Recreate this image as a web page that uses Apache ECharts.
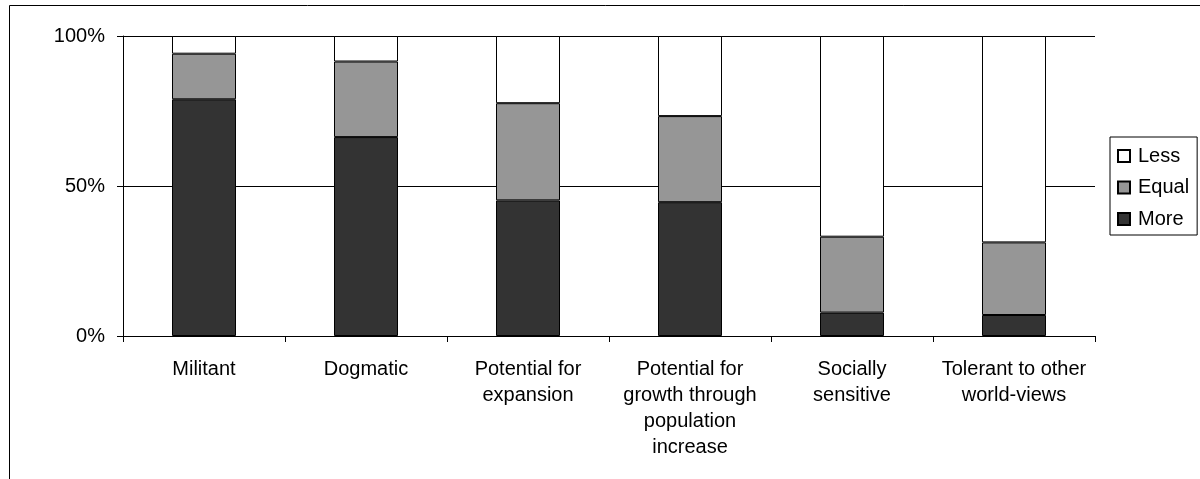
<!DOCTYPE html>
<html>
<head>
<meta charset="utf-8">
<script src="https://cdn.jsdelivr.net/npm/echarts@6/dist/echarts.min.js"></script>
<style>
html,body{margin:0;padding:0;background:#fff;}
#c{width:1200px;height:479px;}
</style>
</head>
<body>
<div id="c"></div>
<script>
var categories = ['Militant', 'Dogmatic', 'Potential for\nexpansion', 'Potential for\ngrowth through\npopulation\nincrease', 'Socially\nsensitive', 'Tolerant to other\nworld-views'];
var more  = [78.9, 66.3, 45.2, 44.6, 7.8, 7.0];
var equal = [15.2, 25.2, 32.4, 28.7, 25.3, 24.2];
var less  = [5.9, 8.5, 22.4, 26.7, 66.9, 68.8];
var yTicks = [0, 50, 100];

var font = 'Liberation Sans, Arial, sans-serif';
var chart = echarts.init(document.getElementById('c'), null, {renderer: 'canvas'});
function bar(name, data, color) {
  return {
    name: name, type: 'bar', stack: 'total', data: data, barWidth: 64,
    itemStyle: {color: color, borderColor: '#000', borderWidth: 1},
    emphasis: {disabled: true}
  };
}
chart.setOption({
  animation: false,
  backgroundColor: '#fff',
  textStyle: {fontFamily: font},
  graphic: [{
    type: 'rect', silent: true,
    shape: {x: 9.5, y: 5.5, width: 1400, height: 800},
    style: {fill: 'none', stroke: '#000', lineWidth: 1}
  }],
  grid: {left: 123, right: 105, top: 36, bottom: 143},
  legend: {
    orient: 'vertical', left: 1110, top: 137,
    data: ['Less', 'Equal', 'More'],
    icon: 'rect', itemWidth: 12, itemHeight: 12, itemGap: 11.5,
    borderColor: '#000', borderWidth: 1, padding: [9, 8, 6, 7],
    textStyle: {fontFamily: font, fontSize: 20, color: '#000', lineHeight: 20, padding: [0, 0, 0, 3]},
    selectedMode: false
  },
  xAxis: {
    type: 'category', data: categories,
    axisLine: {lineStyle: {color: '#000', width: 1}},
    axisTick: {show: true, length: 6, alignWithLabel: false, lineStyle: {color: '#000'}},
    axisLabel: {fontFamily: font, fontSize: 20, color: '#000', lineHeight: 26, margin: 20, interval: 0}
  },
  yAxis: {
    type: 'value', min: yTicks[0], max: yTicks[yTicks.length - 1], interval: yTicks[1] - yTicks[0],
    axisLine: {show: true, lineStyle: {color: '#000', width: 1}},
    axisTick: {show: true, length: 6, lineStyle: {color: '#000'}},
    axisLabel: {fontFamily: font, fontSize: 20, color: '#000', margin: 18, formatter: '{value}%'},
    splitLine: {show: true, lineStyle: {color: '#000', width: 1}}
  },
  series: [
    bar('More', more, '#333333'),
    bar('Equal', equal, '#969696'),
    bar('Less', less, '#ffffff')
  ]
});
</script>
</body>
</html>
